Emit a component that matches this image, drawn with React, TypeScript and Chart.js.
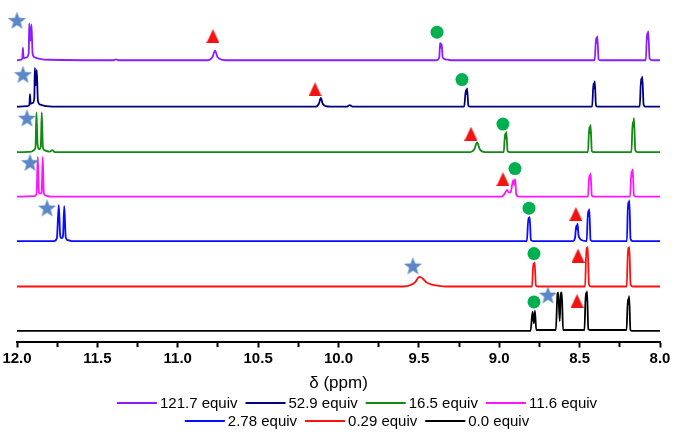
import React, { useEffect, useRef } from 'react';
import { Chart, registerables } from 'chart.js';

Chart.register(...registerables);

// ---------- data ----------
const SERIES_LABELS = ['121.7 equiv', '52.9 equiv', '16.5 equiv', '11.6 equiv', '2.78 equiv', '0.29 equiv', '0.0 equiv'];
const SERIES_COLORS = ['#8b1eff', '#000080', '#118a11', '#ff14ff', '#0a0aff', '#ff1010', '#000000'];
// vertical stacking offset of each trace (intensity units)
const OFFSETS = [291, 243, 196, 150, 104, 57, 11];

// [ppm, intensity] vertices
const TRACE_121_7: [number, number][] = [[12.0,0],[11.975,0.5],[11.967,2],[11.963,13],[11.959,2],[11.94,3],[11.927,8],[11.924,38],[11.917,20],[11.910,37],[11.903,7],[11.89,3],[11.86,1.5],[11.80,0.5],[11.40,0],[11.385,1],[11.37,0],[10.81,0],[10.785,3],[10.768,10],[10.752,3],[10.72,0.5],[10.68,0],[9.39,0],[9.373,3],[9.368,18],[9.363,13],[9.358,17],[9.352,3],[9.335,1],[9.30,0],[8.406,0],[8.398,23],[8.394,18],[8.390,25],[8.382,1],[8.37,0],[8.088,0],[8.081,28],[8.077,22],[8.073,30],[8.065,2],[8.05,0],[8.0,0]];
const TRACE_52_9: [number, number][] = [[12.0,0],[11.935,0.5],[11.923,2],[11.919,13],[11.915,3],[11.90,4],[11.892,10],[11.889,40],[11.883,22],[11.877,38],[11.870,6],[11.855,2],[11.82,0.5],[11.78,0],[10.14,0],[10.122,3],[10.11,9],[10.098,3],[10.08,0.5],[10.05,0],[9.95,0],[9.93,1.5],[9.91,0],[9.218,0],[9.208,17],[9.204,13],[9.200,19],[9.192,1],[9.18,0],[8.422,0],[8.414,24],[8.410,19],[8.406,26],[8.398,1],[8.385,0],[8.126,0],[8.118,29],[8.114,24],[8.110,31],[8.102,2],[8.09,0],[8.0,0]];
const TRACE_16_5: [number, number][] = [[12.0,0],[11.91,0.5],[11.895,2],[11.885,5],[11.879,41],[11.872,8],[11.862,3],[11.852,6],[11.846,41],[11.839,5],[11.83,2],[11.80,0.5],[11.78,2],[11.765,0],[9.18,0],[9.155,3],[9.138,10],[9.121,3],[9.09,0],[8.972,0],[8.964,19],[8.960,14],[8.956,21],[8.948,1],[8.935,0],[8.448,0],[8.440,26],[8.436,20],[8.432,28],[8.424,1],[8.41,0],[8.178,0],[8.170,31],[8.166,26],[8.162,35],[8.154,2],[8.14,0],[8.0,0]];
const TRACE_11_6: [number, number][] = [[12.0,0],[11.89,0.5],[11.878,3],[11.871,41],[11.863,4],[11.856,3],[11.847,4],[11.840,41],[11.833,3],[11.82,1],[11.79,0],[8.985,0],[8.966,3],[8.952,7],[8.940,4],[8.928,5],[8.913,17],[8.907,12],[8.901,18],[8.894,2],[8.88,0],[8.448,0],[8.440,22],[8.436,18],[8.432,24],[8.424,1],[8.41,0],[8.186,0],[8.178,26],[8.174,21],[8.170,28],[8.162,1],[8.15,0],[8.0,0]];
const TRACE_2_78: [number, number][] = [[12.0,0],[11.77,0],[11.752,3],[11.740,37],[11.731,5],[11.722,3],[11.714,5],[11.706,36],[11.697,4],[11.685,1],[11.66,0],[8.828,0],[8.819,24],[8.815,20],[8.811,25],[8.803,1],[8.79,0],[8.54,0],[8.528,4],[8.521,16],[8.517,12],[8.513,18],[8.507,6],[8.50,3],[8.49,1],[8.456,0],[8.448,31],[8.444,26],[8.440,33],[8.432,1],[8.42,0],[8.206,0],[8.199,40],[8.195,34],[8.191,42],[8.183,2],[8.17,0],[8.0,0]];
const TRACE_0_29: [number, number][] = [[12.0,0],[9.60,0],[9.55,1.5],[9.52,5],[9.505,9],[9.493,10],[9.475,8],[9.45,4],[9.42,2],[9.38,0.8],[9.33,0],[8.796,0],[8.788,24],[8.784,20],[8.780,25],[8.772,1],[8.76,0],[8.466,0],[8.458,40],[8.454,33],[8.450,41],[8.442,2],[8.43,0],[8.207,0],[8.199,40],[8.195,33],[8.191,41],[8.183,2],[8.17,0],[8.0,0]];
const TRACE_0_0: [number, number][] = [[12.0,0],[8.805,0],[8.793,20],[8.785,8],[8.778,21],[8.770,1],[8.74,1],[8.648,1],[8.638,38],[8.633,40],[8.624,10],[8.617,39],[8.611,40],[8.603,1],[8.59,1],[8.47,1],[8.462,39],[8.458,32],[8.454,41],[8.446,2],[8.43,1],[8.208,1],[8.200,33],[8.196,28],[8.192,36],[8.184,1],[8.17,0],[8.0,0]];
const TRACES = [TRACE_121_7, TRACE_52_9, TRACE_16_5, TRACE_11_6, TRACE_2_78, TRACE_0_29, TRACE_0_0];

// peak markers (ppm, stacked intensity)
const STAR_PPM = [12.0, 11.963, 11.938, 11.919, 11.813, 9.537, 8.697];
const STAR_VAL = [332, 276, 231, 185, 138, 78, 48];
const TRI_PPM = [10.781, 10.146, 9.176, 8.977, 8.523, 8.510, 8.516];
const TRI_VAL = [316, 261, 215, 168, 132, 89, 42];
const CIRCLE_PPM = [9.387, 9.232, 8.977, 8.902, 8.815, 8.784, 8.784];
const CIRCLE_VAL = [320, 271, 225, 179, 138, 91, 41];

const X_MIN = 8.0;
const X_MAX = 12.0;
const X_STEP = 0.25;
const Y_MAX = 344;

const LEGEND_ROWS = [[0, 1, 2, 3], [4, 5, 6]];

const FONT = 'Arial, "Liberation Sans", sans-serif';

function makeStar(color: string) {
  const c = document.createElement('canvas');
  c.width = 19; c.height = 19;
  const ctx = c.getContext('2d')!;
  ctx.fillStyle = color;
  ctx.beginPath();
  for (let i = 0; i < 10; i++) {
    const r = i % 2 === 0 ? 9.5 : 3.9;
    const a = -Math.PI / 2 + (i * Math.PI) / 5;
    const x = 9.5 + r * Math.cos(a);
    const y = 10 + r * Math.sin(a);
    if (i === 0) ctx.moveTo(x, y); else ctx.lineTo(x, y);
  }
  ctx.closePath();
  ctx.fill();
  return c;
}

function makeTriangle(color: string) {
  const c = document.createElement('canvas');
  c.width = 13; c.height = 14;
  const ctx = c.getContext('2d')!;
  ctx.fillStyle = color;
  ctx.beginPath();
  ctx.moveTo(6.5, 0);
  ctx.lineTo(13, 14);
  ctx.lineTo(0, 14);
  ctx.closePath();
  ctx.fill();
  return c;
}

const legendPlugin = {
  id: 'rowLegend',
  afterDraw(chart: any) {
    const ctx = chart.ctx as CanvasRenderingContext2D;
    const LINE_LEN = 40, GAP = 3, SPACING = 8;
    const rowsY = [chart.height - 34, chart.height - 16];
    const cx = 357;
    ctx.save();
    ctx.font = '15px ' + FONT;
    ctx.textBaseline = 'middle';
    ctx.textAlign = 'left';
    LEGEND_ROWS.forEach((row, r) => {
      const widths = row.map((i) => LINE_LEN + GAP + ctx.measureText(SERIES_LABELS[i]).width);
      const total = widths.reduce((a, b) => a + b, 0) + SPACING * (row.length - 1);
      let x = cx - total / 2;
      const y = rowsY[r];
      row.forEach((i, k) => {
        ctx.strokeStyle = SERIES_COLORS[i];
        ctx.lineWidth = 2;
        ctx.beginPath();
        ctx.moveTo(x, y);
        ctx.lineTo(x + LINE_LEN, y);
        ctx.stroke();
        ctx.fillStyle = '#000';
        ctx.fillText(SERIES_LABELS[i], x + LINE_LEN + GAP, y + 1);
        x += widths[k] + SPACING;
      });
    });
    ctx.restore();
  },
};

const isMajor = (v: number) => Math.abs(v * 2 - Math.round(v * 2)) < 1e-6;

export default function App() {
  const ref = useRef<HTMLCanvasElement | null>(null);

  useEffect(() => {
    document.body.style.margin = '0';
    const star = makeStar('#5b87c6');
    const tri = makeTriangle('#f21212');

    const markerSet = (ppm: number[], val: number[], style: any, color: string, radius: number) => ({
      type: 'line' as const,
      data: ppm.map((p, i) => ({ x: p, y: val[i] })),
      showLine: false,
      pointStyle: style,
      pointRadius: radius,
      pointBackgroundColor: color,
      pointBorderColor: color,
      pointBorderWidth: 0,
      clip: false as any,
    });

    const traceSets = TRACES.map((tr, s) => ({
      type: 'line' as const,
      label: SERIES_LABELS[s],
      data: tr.map(([p, v]) => ({ x: p, y: OFFSETS[s] + v })),
      borderColor: SERIES_COLORS[s],
      borderWidth: 1.8,
      pointRadius: 0,
      cubicInterpolationMode: 'monotone' as const,
      fill: false,
    }));

    const chart = new Chart(ref.current!, {
      type: 'line',
      data: {
        datasets: [
          markerSet(STAR_PPM, STAR_VAL, star, '#5b87c6', 9),
          markerSet(TRI_PPM, TRI_VAL, tri, '#f21212', 7),
          markerSet(CIRCLE_PPM, CIRCLE_VAL, 'circle', '#00b050', 6.5),
          ...traceSets,
        ] as any,
      },
      options: {
        animation: false,
        responsive: false,
        layout: { padding: { left: 17, right: 15, top: 0, bottom: 39 } },
        plugins: {
          legend: { display: false },
          tooltip: { enabled: false },
        },
        scales: {
          x: {
            type: 'linear',
            min: X_MIN,
            max: X_MAX,
            reverse: true,
            border: { display: true, color: '#000', width: 2 },
            grid: {
              display: true,
              drawOnChartArea: false,
              drawTicks: true,
              tickLength: 6,
              tickWidth: 2,
              tickColor: '#000',
              tickBorderDash: (c: any) => (c.tick && isMajor(c.tick.value) ? [] : [4, 20]),
            } as any,
            ticks: {
              stepSize: X_STEP,
              autoSkip: false,
              maxRotation: 0,
              padding: 2,
              color: '#000',
              font: { family: FONT, size: 15, weight: 'bold' },
              callback: (v: any) => (isMajor(Number(v)) ? Number(v).toFixed(1) : ''),
            },
            title: {
              display: true,
              text: 'δ (ppm)',
              color: '#000',
              font: { family: FONT, size: 17 },
              padding: { top: 4, bottom: 4 },
            },
          },
          y: { display: false, min: 0, max: Y_MAX },
        },
      },
      plugins: [legendPlugin],
    });
    return () => chart.destroy();
  }, []);

  return (
    <div style={{ position: 'absolute', left: 0, top: 0, width: 675, height: 437 }}>
      <canvas ref={ref} width={675} height={437} style={{ display: 'block' }} />
    </div>
  );
}
